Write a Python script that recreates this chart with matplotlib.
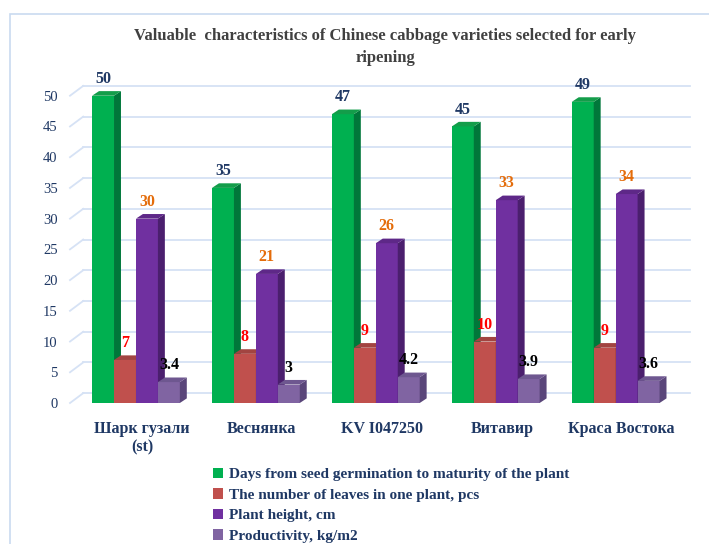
import numpy as np
import matplotlib
matplotlib.use('Agg')
import matplotlib.pyplot as plt
from matplotlib.patches import Polygon, Rectangle

varieties = ['Шарк гузали\n(st)', 'Веснянка', 'KV I047250', 'Витавир', 'Краса Востока']
series_names = ['Days from seed germination to maturity of the plant',
                'The number of leaves in one plant, pcs',
                'Plant height, cm',
                'Productivity, kg/m2']
days = [50, 35, 47, 45, 49]
leaves = [7, 8, 9, 10, 9]
height = [30, 21, 26, 33, 34]
productivity = [3.4, 3, 4.2, 3.9, 3.6]
value_labels = [['50', '35', '47', '45', '49'],
                ['7', '8', '9', '10', '9'],
                ['30', '21', '26', '33', '34'],
                ['3.4', '3', '4.2', '3.9', '3.6']]

front = ['#00B050', '#C0504D', '#7030A0', '#8064A2']
side = ['#00773A', '#8E3532', '#4B1F6E', '#5A467A']
top = ['#139D4A', '#A24441', '#5E2888', '#6E5790']
label_colors = ['#1F3864', '#FF0000', '#E46C0A', '#000000']

plt.rcParams['font.family'] = ['Liberation Serif', 'DejaVu Serif']
fig = plt.figure(figsize=(7.09, 5.44), dpi=100)
ax = fig.add_axes([70 / 709, (544 - 403) / 544, 620 / 709, 338 / 544])
ax.set_xlim(-0.55, 4.62)
ax.set_ylim(0, 55)

# outer chart border
fig.patches.append(Rectangle((10 / 709, -0.02), 1.0, (544 - 14) / 544 + 0.02,
                             transform=fig.transFigure, fill=False,
                             edgecolor='#C9DAF0', lw=1.2))

# back-wall gridlines with a perspective stub on the left
gdx, gdy = 0.11, 1.6
for v in range(0, 51, 5):
    ax.plot([-0.55 + gdx, 4.62], [v + gdy, v + gdy], color='#D6E2F5', lw=1.3, clip_on=False, zorder=0)
    ax.plot([-0.55, -0.55 + gdx], [v, v + gdy], color='#D6E2F5', lw=1.3, clip_on=False, zorder=0)

w = 0.183
dx, dy = 0.058, 0.75
x = np.arange(len(varieties))
data = [days, leaves, height, productivity]
for s, vals in enumerate(data):
    for i, v in enumerate(vals):
        x0 = x[i] + (s - 2) * w
        x1 = x0 + w
        ax.add_patch(Rectangle((x0, 0), w, v, facecolor=front[s], edgecolor='none', zorder=3 + s))
        ax.add_patch(Polygon([(x1, 0), (x1, v), (x1 + dx, v + dy), (x1 + dx, dy)],
                             facecolor=side[s], edgecolor='none', zorder=3 + s))
        ax.add_patch(Polygon([(x0, v), (x1, v), (x1 + dx, v + dy), (x0 + dx, v + dy)],
                             facecolor=top[s], edgecolor='none', zorder=3 + s))
        ax.annotate(value_labels[s][i], (x0 + w / 2, v + dy), xytext=(0, 3),
                    textcoords='offset points', ha='center', va='bottom',
                    fontsize=11.5, fontweight='bold', color=label_colors[s], zorder=10)

ax.set_xticks(x + 0.05)
ax.set_xticklabels(varieties, fontsize=11.5, fontweight='bold', color='#1F3864', va='top')
ax.set_yticks(range(0, 51, 5))
ax.tick_params(axis='y', labelsize=10.5, colors='#1F3864', length=0, pad=9)
ax.tick_params(axis='x', length=0, pad=13)
for sp in ax.spines.values():
    sp.set_visible(False)

fig.text(385 / 709, 1 - 47 / 544, 'Valuable  characteristics of Chinese cabbage varieties selected for early\nripening',
         ha='center', va='center', fontsize=12, fontweight='bold', color='#404040', linespacing=1.5)

handles = [Rectangle((0, 0), 1, 1, facecolor=c) for c in front]
fig.legend(handles, series_names, loc='upper left', bbox_to_anchor=(205 / 709, 1 - 460 / 544),
           frameon=False, handlelength=0.7, handleheight=0.7, handletextpad=0.4,
           labelspacing=0.45, borderpad=0,
           prop={'weight': 'bold', 'size': 11})
for t in fig.legends[0].get_texts():
    t.set_color('#1F3864')

fig.savefig('out.png', dpi=100)
